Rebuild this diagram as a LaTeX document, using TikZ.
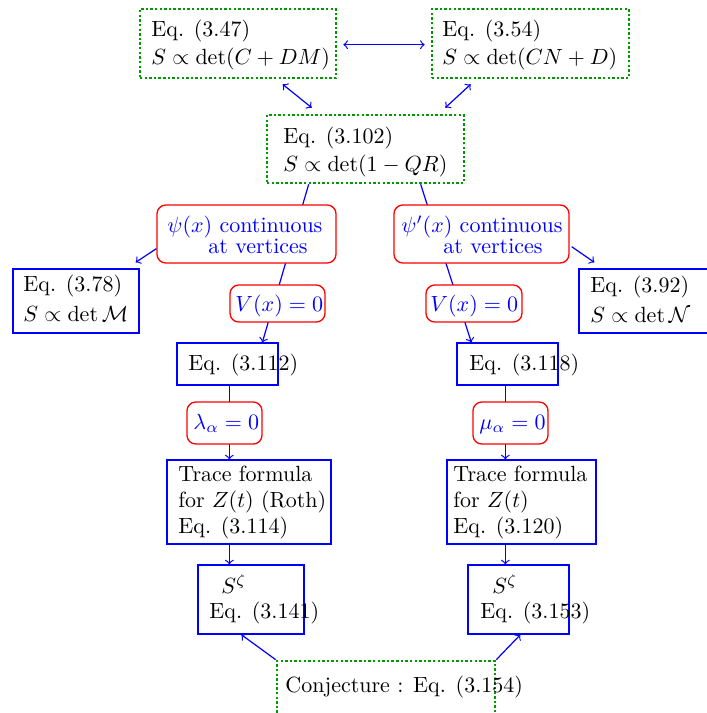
\documentclass[tikz,border=0pt]{standalone}
\usetikzlibrary{fit,calc}
\begin{document}
\begin{tikzpicture}[x=0.4545pt,y=-0.4545pt,
  greenbox/.style={draw=green!60!black, line width=1.2pt, dash pattern=on 1.1pt off 1pt, inner sep=0pt},
  bluebox/.style={draw=blue, line width=0.6pt, inner sep=0pt},
  redbox/.style={draw=red, line width=0.6pt, rounded corners=4pt, fill=white, inner sep=0pt},
  txt/.style={anchor=base west, inner sep=0pt},
  btxt/.style={txt, text=blue},
  conn/.style={draw=blue, line width=0.55pt},
  arr/.style={conn, ->},
  darr/.style={conn, <->}]
\useasboundingbox (0,0) rectangle (707,713);
\clip (0,0) rectangle (707,713);
% boxes
\node[greenbox, fit={(140,9) (336,78)}] (b47) {};
\node[greenbox, fit={(432,9) (629,78)}] (b54) {};
\node[greenbox, fit={(267,115) (464,183)}] (b102) {};
\node[bluebox, fit={(13,269) (139,333)}] (b78) {};
\node[bluebox, fit={(579,269) (715,333)}] (b92) {};
\node[bluebox, fit={(177,343) (278,385)}] (b112) {};
\node[bluebox, fit={(457,343) (558,385)}] (b118) {};
\node[bluebox, fit={(167,460) (331,544)}] (trL) {};
\node[bluebox, fit={(447,460) (596,544)}] (trR) {};
\node[bluebox, fit={(198,565) (304,634)}] (sL) {};
\node[bluebox, fit={(468,565) (569,634)}] (sR) {};
\node[greenbox, fit={(277,661) (495,730)}] (conj) {};
% connectors
\draw[darr] ($(b47.north east)+(6,37)$) -- ($(b54.north west)+(-6,37)$);
\draw[darr] ($(b47.south west)+(144,5)$) -- ($(b102.north west)+(46,-6)$);
\draw[darr] ($(b54.south west)+(40,5)$) -- ($(b102.north east)+(-20,-6)$);
\draw[arr] ($(b102.south west)+(43,0)$) -- ($(b112.north west)+(86,0)$);
\draw[arr] ($(b102.south west)+(155,0)$) -- ($(b118.north west)+(15,0)$);
\draw[arr] ($(b112.south west)+(53,0)$) -- ($(trL.north west)+(63,0)$);
\draw[arr] ($(b118.south west)+(49,0)$) -- ($(trR.north west)+(59,0)$);
\draw[arr] ($(trL.south west)+(63,0)$) -- ($(sL.north west)+(32,0)$);
\draw[arr] ($(trR.south west)+(59,0)$) -- ($(sR.north west)+(38,0)$);
\draw[arr] (conj.north west) -- ($(sL.south west)+(44,0)$);
\draw[arr] (conj.north east) -- ($(sR.south west)+(53,0)$);
% condition boxes on the lines
\node[redbox, fit={(157,205) (336,263)}] (psiL) {};
\node[redbox, fit={(394,205) (569,263)}] (psiR) {};
\node[redbox, fit={(230,285) (325,322)}] (VL) {};
\node[redbox, fit={(426,285) (522,322)}] (VR) {};
\node[redbox, fit={(187,402) (262,444)}] (lam) {};
\node[redbox, fit={(473,402) (548,444)}] (mu) {};
\draw[arr] ($(psiL.south west)+(0,-15)$) -- ($(b78.north east)+(-4,-6)$);
\draw[arr] ($(psiR.south east)+(2,-17)$) -- ($(b92.north west)+(16,-6)$);
% texts
\node[txt] (t47a) at (151,36) {Eq. (3.47)};
\node[txt] (t47b) at (151,64) {$S\propto\det(C+DM)$};
\node[txt] (t54a) at (442,36) {Eq. (3.54)};
\node[txt] (t54b) at (442,64) {$S\propto\det(CN+D)$};
\node[txt] (t102a) at (283,143) {Eq. (3.102)};
\node[txt] (t102b) at (283,171) {$S\propto\det(1-QR)$};
\node[btxt] (tpsiLa) at (167,232) {$\psi(x)$ continuous};
\node[btxt] (tpsiLb) at (208,253) {at vertices};
\node[btxt] (tpsiRa) at (401,232) {$\psi'(x)$ continuous};
\node[btxt] (tpsiRb) at (443,253) {at vertices};
\node[txt] (t78a) at (23,291) {Eq. (3.78)};
\node[txt] (t78b) at (23,321) {$S\propto\det\mathcal{M}$};
\node[txt] (t92a) at (590,292) {Eq. (3.92)};
\node[txt] (t92b) at (590,322) {$S\propto\det\mathcal{N}$};
\node[btxt] (tVL) at (235,311) {$V(x)=0$};
\node[btxt] (tVR) at (430,311) {$V(x)=0$};
\node[txt] (t112) at (188,370) {Eq. (3.112)};
\node[txt] (t118) at (469,370) {Eq. (3.118)};
\node[btxt] (tlam) at (193,429) {$\lambda_\alpha=0$};
\node[btxt] (tmu) at (479,429) {$\mu_\alpha=0$};
\node[txt] (trLa) at (178,481) {Trace formula};
\node[txt] (trLb) at (178,507) {for $Z(t)$ (Roth)};
\node[txt] (trLc) at (178,533) {Eq. (3.114)};
\node[txt] (trRa) at (453,481) {Trace formula};
\node[txt] (trRb) at (453,507) {for $Z(t)$};
\node[txt] (trRc) at (453,533) {Eq. (3.120)};
\node[txt] (sLa) at (221,593) {$S^\zeta$};
\node[txt] (sLb) at (209,618) {Eq. (3.141)};
\node[txt] (sRa) at (492,593) {$S^\zeta$};
\node[txt] (sRb) at (480,618) {Eq. (3.153)};
\node[txt] (tconj) at (285,692) {Conjecture : Eq. (3.154)};
\end{tikzpicture}
\end{document}
